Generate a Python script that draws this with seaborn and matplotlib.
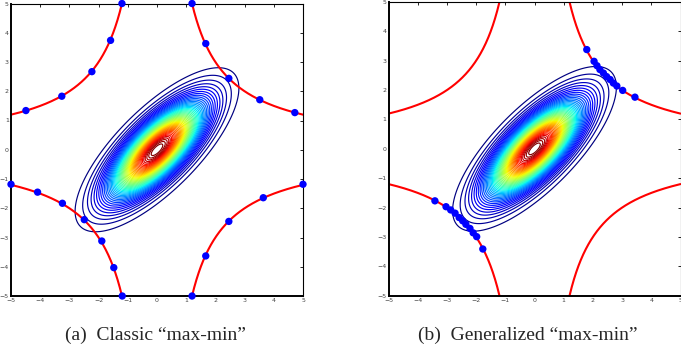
import numpy as np
import pandas as pd
import matplotlib
matplotlib.use("Agg")
import matplotlib.pyplot as plt
import seaborn as sns

# ---------------- data ----------------
HYPER_C = 6.0          # red curves: |x*y| = HYPER_C
AXIS_LIM = 5
TICKS = list(range(-5, 6))

GAUSS_MEAN = [0.0, 0.0]
GAUSS_COV = [[1.0, 0.75], [0.75, 1.0]]
N_LEVELS = 50

# blue points, panel (a)
a_x = [-4.49, -3.26, -2.23, -1.59, -1.20,
       1.20, 1.67, 2.46, 3.52, 4.72,
       -5.00, -4.09, -3.24, -2.49, -1.89, -1.48, -1.19,
       1.20, 1.67, 2.46, 3.64, 5.00]
a_y = [1.34, 1.83, 2.67, 3.74, 5.00,
       5.00, 3.63, 2.44, 1.71, 1.27,
       -1.18, -1.45, -1.83, -2.39, -3.12, -4.03, -5.00,
       -5.00, -3.63, -2.45, -1.64, -1.18]

# blue points, panel (b)
b_x = [1.79, 2.04, 2.14, 2.24, 2.36, 2.47, 2.59, 2.70, 2.82, 3.02, 3.44,
       -3.41, -3.03, -2.87, -2.72, -2.58, -2.46, -2.35, -2.21, -2.10, -1.98, -1.77]
b_y = [3.38, 2.98, 2.83, 2.70, 2.58, 2.46, 2.36, 2.24, 2.14, 1.99, 1.76,
       -1.77, -1.97, -2.08, -2.19, -2.34, -2.45, -2.57, -2.71, -2.86, -2.99, -3.41]

CAPTIONS = ["(a)  Classic \u201cmax-min\u201d", "(b)  Generalized \u201cmax-min\u201d"]

# ---------------- derived tables ----------------
rows = []
for bi, (sx, sy) in enumerate([(-1, 1), (1, 1), (-1, -1), (1, -1)]):
    xs = np.linspace(HYPER_C / AXIS_LIM, AXIS_LIM, 300) * sx
    ys = sy * HYPER_C / np.abs(xs)
    for xv, yv in zip(xs, ys):
        rows.append((bi, xv, yv))
curve_df = pd.DataFrame(rows, columns=["branch", "x", "y"])

g = np.linspace(-AXIS_LIM, AXIS_LIM, 401)
X, Y = np.meshgrid(g, g)
cov = np.array(GAUSS_COV)
inv = np.linalg.inv(cov)
dx = X - GAUSS_MEAN[0]
dy = Y - GAUSS_MEAN[1]
Z = np.exp(-0.5 * (inv[0, 0] * dx * dx + 2 * inv[0, 1] * dx * dy + inv[1, 1] * dy * dy))
Z = Z / (2 * np.pi * np.sqrt(np.linalg.det(cov)))
levels = Z.max() * np.arange(1, N_LEVELS + 1) / (N_LEVELS + 1)

pts = [pd.DataFrame({"x": a_x, "y": a_y}), pd.DataFrame({"x": b_x, "y": b_y})]

# ---------------- figure ----------------
sns.set_style("white")
W, H = 681, 349
fig = plt.figure(figsize=(W / 100, H / 100), dpi=100)
boxes = [[11 / W, 1 - 296 / H, 292 / W, 292.5 / H],
         [388.5 / W, 1 - 295.7 / H, 292 / W, 293.7 / H]]
cap_x = [155 / W, 528 / W]

for i in range(2):
    ax = fig.add_axes(boxes[i])
    ax.contour(X, Y, Z, levels=levels, cmap="jet", linewidths=0.85, zorder=1)
    sns.lineplot(data=curve_df, x="x", y="y", units="branch", estimator=None,
                 sort=False, color="#ff0000", linewidth=1.5, ax=ax, zorder=2)
    sns.scatterplot(data=pts[i], x="x", y="y", color="#0000ff", s=28,
                    edgecolor="none", linewidth=0, ax=ax, zorder=3, clip_on=False)
    ax.set_xlim(-AXIS_LIM, AXIS_LIM)
    ax.set_ylim(-AXIS_LIM, AXIS_LIM)
    ax.set_xticks(TICKS)
    ax.set_yticks(TICKS)
    ax.set_xlabel("")
    ax.set_ylabel("")
    ax.tick_params(direction="in", length=2.2, width=0.6, labelsize=4.5,
                   top=True, right=True, pad=1.5, colors="black")
    ax.tick_params(labelcolor="#444444")
    for side in ["left", "bottom"]:
        ax.spines[side].set_linewidth(1.4)
        ax.spines[side].set_color("black")
    for side in ["top", "right"]:
        ax.spines[side].set_linewidth(0.8)
        ax.spines[side].set_color("black")
    ax.set_facecolor("white")
    fig.text(cap_x[i], 1 - 335 / H, CAPTIONS[i], ha="center", va="center",
             family="Liberation Serif", fontsize=14)

fig.savefig("out.png", dpi=100, facecolor="white")
